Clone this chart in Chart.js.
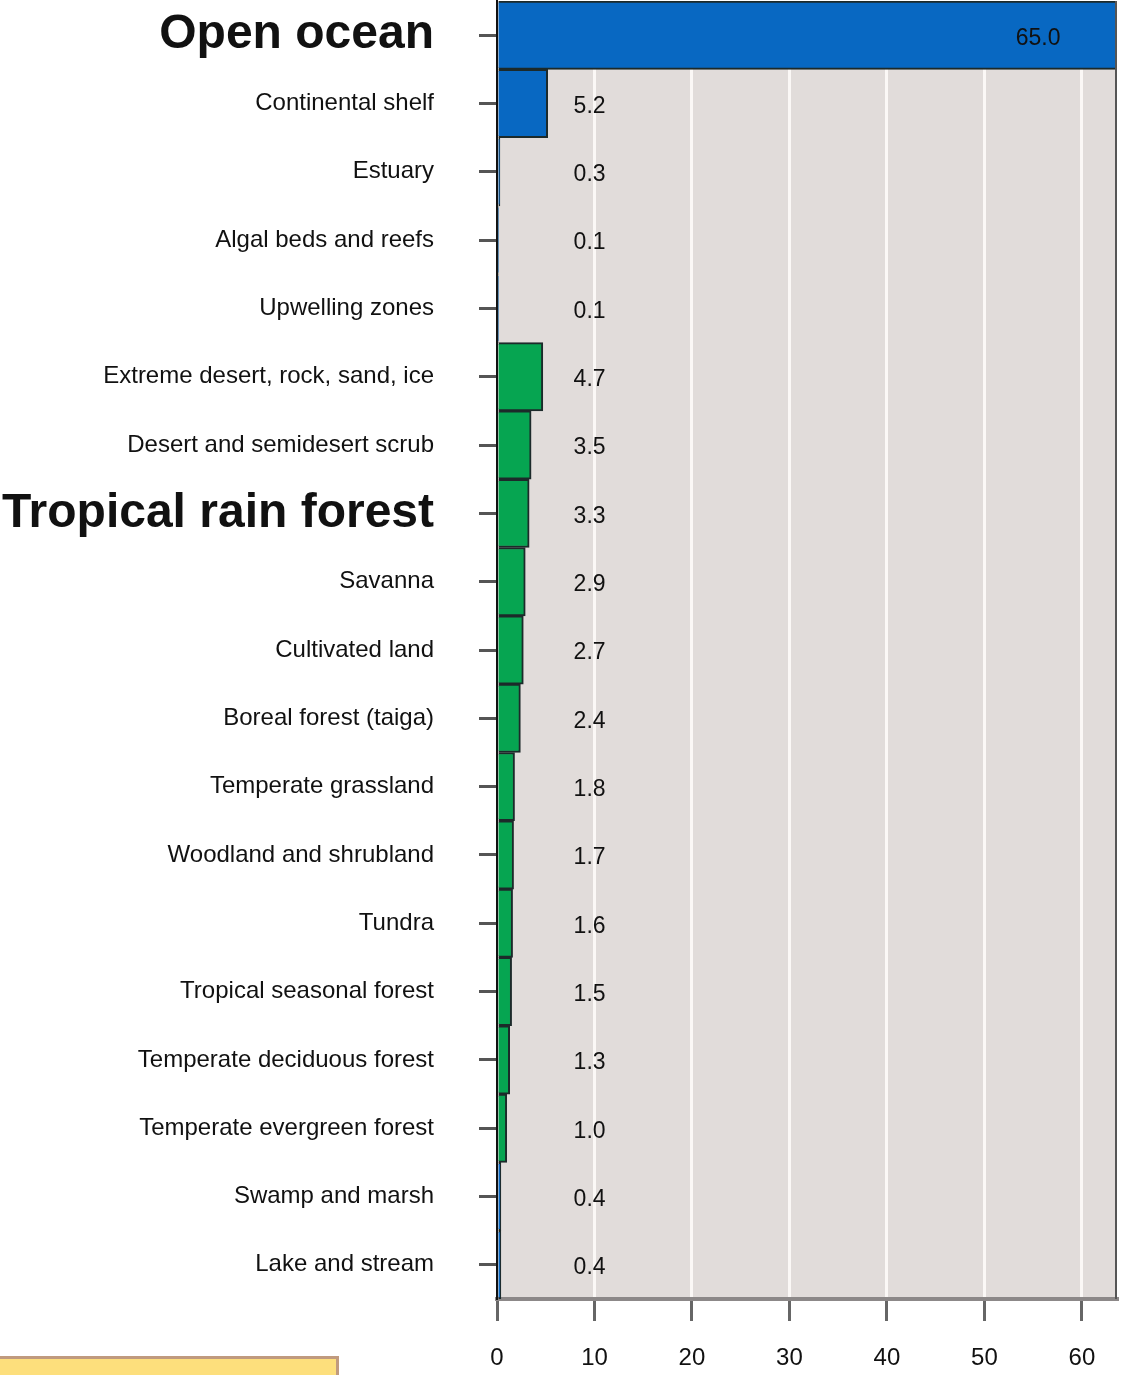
<!DOCTYPE html>
<html>
<head>
<meta charset="utf-8">
<script src="https://cdn.jsdelivr.net/npm/chart.js@4.4.1/dist/chart.umd.min.js"></script>
<style>
  body { margin: 0; background: #fff; }
  #wrap { position: relative; width: 1121px; height: 1375px; }
  #note { position: absolute; left: -4px; top: 1356px; width: 343px; height: 30px;
          background: #fddf7c; border: 3px solid #c09a7e; box-sizing: border-box; }
</style>
</head>
<body>
<div id="wrap">
  <canvas id="chart" width="1121" height="1375"></canvas>
  <div id="note"></div>
</div>
<script>
// Экосистемы и их доля (%)
const ecosystems = [
    'Open ocean', 'Continental shelf', 'Estuary', 'Algal beds and reefs', 'Upwelling zones',
    'Extreme desert, rock, sand, ice', 'Desert and semidesert scrub', 'Tropical rain forest',
    'Savanna', 'Cultivated land', 'Boreal forest (taiga)', 'Temperate grassland',
    'Woodland and shrubland', 'Tundra', 'Tropical seasonal forest', 'Temperate deciduous forest',
    'Temperate evergreen forest', 'Swamp and marsh', 'Lake and stream'
];
const shares = [65.0, 5.2, 0.3, 0.1, 0.1, 4.7, 3.5, 3.3, 2.9, 2.7, 2.4, 1.8, 1.7, 1.6, 1.5, 1.3, 1.0, 0.4, 0.4];
const isAquatic = [true, true, true, true, true, false, false, false, false, false,
                   false, false, false, false, false, false, false, true, true];
const highlighted = ['Open ocean', 'Tropical rain forest'];
const xTicks = [0, 10, 20, 30, 40, 50, 60];

const BLUE = '#0868c2';
const GREEN = '#06a551';
const FONT = '"Liberation Sans", Arial, sans-serif';

// фон области графика и рамка справа
const plotBackground = {
    id: 'plotBackground',
    beforeDraw(chart) {
        const { ctx, chartArea: a } = chart;
        ctx.save();
        ctx.fillStyle = '#e1dcda';
        ctx.fillRect(a.left, a.top, a.right - a.left, a.bottom - a.top);
        ctx.restore();
    },
    afterDraw(chart) {
        const { ctx, chartArea: a } = chart;
        ctx.save();
        ctx.strokeStyle = '#555';
        ctx.lineWidth = 2;
        ctx.beginPath();
        ctx.moveTo(a.right - 1, a.top);
        ctx.lineTo(a.right - 1, a.bottom);
        ctx.stroke();
        ctx.restore();
    }
};

// подписи значений
const valueLabels = {
    id: 'valueLabels',
    afterDatasetsDraw(chart) {
        const { ctx, scales } = chart;
        const meta = chart.getDatasetMeta(0);
        ctx.save();
        ctx.font = '23px ' + FONT;
        ctx.fillStyle = '#111';
        ctx.textAlign = 'center';
        ctx.textBaseline = 'middle';
        meta.data.forEach((bar, i) => {
            const v = shares[i];
            const x = v > scales.x.max ? scales.x.getPixelForValue(55.5) : scales.x.getPixelForValue(9.5);
            ctx.fillText(v.toFixed(1), x, bar.y + 3);
        });
        ctx.restore();
    }
};

new Chart(document.getElementById('chart'), {
    type: 'bar',
    data: {
        labels: ecosystems,
        datasets: [{
            data: shares,
            backgroundColor: isAquatic.map(a => a ? BLUE : GREEN),
            borderColor: '#1c2a2a',
            borderWidth: 2,
            borderSkipped: 'start',
            categoryPercentage: 1.0,
            barPercentage: 1.0
        }]
    },
    options: {
        indexAxis: 'y',
        responsive: false,
        animation: false,
        layout: { padding: { top: 1, right: 4 } },
        plugins: {
            legend: { display: false },
            tooltip: { enabled: false }
        },
        scales: {
            x: {
                min: 0,
                max: 63.6,
                afterFit: s => { s.height = 76; s.paddingLeft = 0; s.paddingRight = 0; },
                ticks: {
                    stepSize: 10,
                    includeBounds: false,
                    padding: 23,
                    color: '#111',
                    font: { family: FONT, size: 24 }
                },
                afterBuildTicks: s => { s.ticks = xTicks.map(v => ({ value: v })); },
                grid: {
                    color: c => (c.tick && c.tick.value === 0) ? 'rgba(0,0,0,0)' : '#fbf8f6',
                    lineWidth: 3,
                    tickColor: '#666',
                    tickWidth: 3,
                    tickLength: 22
                },
                border: { color: '#8c8888', width: 4 }
            },
            y: {
                afterFit: s => { s.width = 497; s.paddingTop = 0; s.paddingBottom = 0; },
                ticks: {
                    padding: 45,
                    color: '#111',
                    font: c => highlighted.includes(ecosystems[c.index])
                        ? { family: FONT, size: 48, weight: 'bold' }
                        : { family: FONT, size: 24 }
                },
                grid: {
                    offset: false,
                    drawOnChartArea: false,
                    color: '#555',
                    tickLength: 18,
                    tickWidth: 3
                },
                border: { color: '#111', width: 2 }
            }
        }
    },
    plugins: [plotBackground, valueLabels]
});
</script>
</body>
</html>
